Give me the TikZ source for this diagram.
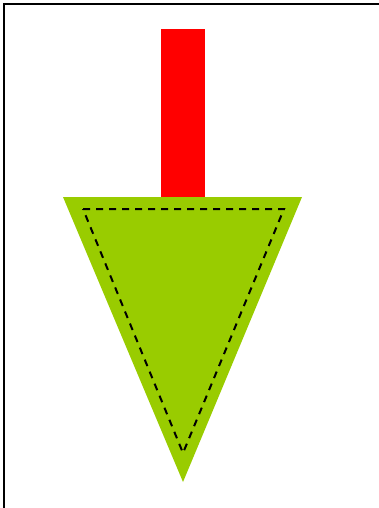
\documentclass[tikz,border=0pt]{standalone}
\definecolor{headgreen}{HTML}{99CC00}
\begin{document}
\begin{tikzpicture}[x=1pt, y=-1pt, thick]
  \useasboundingbox (0,0) rectangle (379,508);

  % Frame (top and left only)
  \coordinate (frameBL) at (4,508);
  \coordinate (frameTL) at (4,4);
  \coordinate (frameTR) at (379,4);
  \draw[black, line width=2pt] (frameBL) -- (frameTL) -- (frameTR);

  % Shaft
  \coordinate (shaftTL) at (161,29);
  \coordinate (shaftBR) at (205,198);
  \fill[red] (shaftTL) rectangle (shaftBR);

  % Arrow head
  \coordinate (headL) at (63,197);
  \coordinate (headR) at (302,197);
  \coordinate (headTip) at (183,482);
  \fill[headgreen] (headL) -- (headR) -- (headTip) -- cycle;

  % Inner dashed outline
  \coordinate (innerL) at (83,209);
  \coordinate (innerR) at (284,209);
  \coordinate (innerTip) at (183,453);
  \draw[black, line width=2pt, dash pattern=on 7pt off 6pt]
    (innerL) -- (innerR) -- (innerTip) -- cycle;
\end{tikzpicture}
\end{document}
